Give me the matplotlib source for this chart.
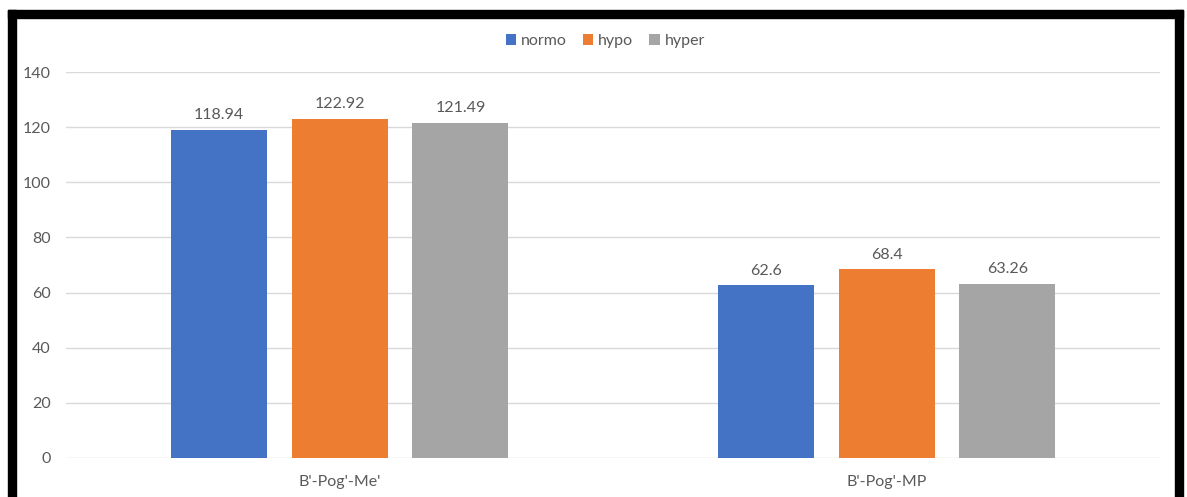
import numpy as np
import matplotlib.pyplot as plt
from matplotlib.patches import Rectangle

# Values per measurement and group
categories = ["B'-Pog'-Me'", "B'-Pog'-MP"]
normo = [118.94, 62.6]
hypo = [122.92, 68.4]
hyper = [121.49, 63.26]
series_names = ['normo', 'hypo', 'hyper']
colors = ['#4472C4', '#ED7D31', '#A5A5A5']

plt.rcParams['font.family'] = ['Lato', 'DejaVu Sans']
text_color = '#595959'
fs = 11.5

fig = plt.figure(figsize=(11.87, 4.97), dpi=100)
ax = fig.add_axes([0.0556, 0.0785, 0.9217, 0.7765])

x = np.arange(len(categories))
width = 0.1755
pitch = 0.221
for i, (vals, name, c) in enumerate(zip([normo, hypo, hyper], series_names, colors)):
    pos = x + (i - 1) * pitch
    bars = ax.bar(pos, vals, width=width, color=c, label=name, zorder=3)
    for b, v in zip(bars, vals):
        ax.text(b.get_x() + b.get_width() / 2, v + 2.8, f'{v:g}',
                ha='center', va='bottom', fontsize=fs, color=text_color)

ax.set_xlim(-0.5, 1.5)
ax.set_ylim(0, 140)
ax.set_yticks(range(0, 141, 20))
ax.set_xticks(x)
ax.set_xticklabels(categories)
ax.grid(axis='y', color='#D9D9D9', linewidth=1, zorder=0)
for s in ax.spines.values():
    s.set_visible(False)
ax.tick_params(length=0, labelsize=fs, colors=text_color)
ax.tick_params(axis='y', pad=11)
ax.tick_params(axis='x', pad=12)

leg = ax.legend(loc='lower center', bbox_to_anchor=(0.493, 1.025), ncol=3,
                frameon=False, fontsize=fs, handlelength=0.65, handleheight=0.65,
                handletextpad=0.3, columnspacing=1.0, labelcolor=text_color)

# thick black frame around the chart (open at the bottom)
W, H = 1187, 497
frame = dict(color='black', transform=fig.transFigure, clip_on=False)
fig.patches.append(Rectangle((8 / W, 0), 8 / W, 1 - 10 / H, **frame))
fig.patches.append(Rectangle((1175 / W, 0), 8 / W, 1 - 10 / H, **frame))
fig.patches.append(Rectangle((8 / W, 1 - 18 / H), 1175 / W, 8 / H, **frame))

fig.savefig('out.png', dpi=100)
